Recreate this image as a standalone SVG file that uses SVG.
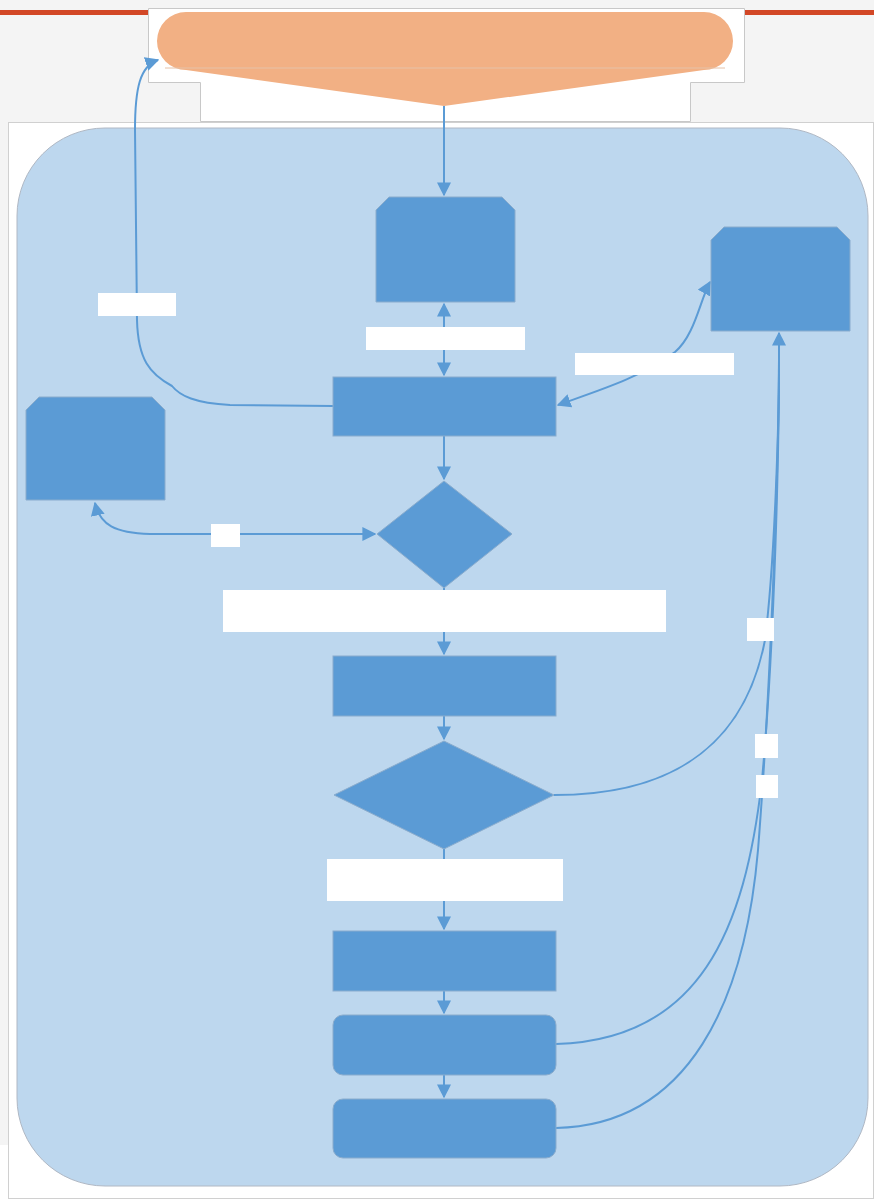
<svg xmlns="http://www.w3.org/2000/svg" width="874" height="1202" viewBox="0 0 874 1202">
<defs>
<style>
.node{fill:#5b9bd5;stroke:#8aaccd;stroke-width:1}
.lbl{fill:#ffffff}
.con{fill:none;stroke:#5b9bd5;stroke-width:2}
</style>
<marker id="arr" viewBox="0 0 10 10" refX="9" refY="5" markerWidth="7" markerHeight="7" orient="auto-start-reverse" markerUnits="strokeWidth">
<path d="M0,0 L10,5 L0,10 Z" fill="#5b9bd5"/>
</marker>
</defs>
<rect x="0" y="0" width="874" height="1145" fill="#f4f4f4"/>
<rect x="0" y="1145" width="874" height="57" fill="#ffffff"/>
<rect x="0" y="10" width="874" height="5" fill="#d24726"/>
<rect x="8.5" y="122.5" width="865" height="1076" fill="#ffffff" stroke="#d0d0d0"/>
<rect id="container" x="17" y="128" width="851" height="1058" rx="88" ry="88" fill="#bdd7ee" stroke="#b0b8c4" stroke-width="1"/>

<g id="header">
<path d="M148.5,8.5 H744.5 V82.5 H690.5 V121.5 H200.5 V82.5 H148.5 Z" fill="#ffffff" stroke="#c8c8c8"/>
<path d="M157,41 A29,29 0 0 1 186,12 H704 A29,29 0 0 1 733,41 A29,29 0 0 1 704,70 L444,106 L186,70 A29,29 0 0 1 157,41 Z" fill="#f2b084"/>
<line x1="165" y1="68" x2="725" y2="68" stroke="#e6c2a8" stroke-width="1"/>
</g>

<g id="connectors">
<path class="con" d="M444,106 V195" marker-end="url(#arr)"/>
<path class="con" d="M444,304 V375" marker-start="url(#arr)" marker-end="url(#arr)"/>
<path class="con" d="M444,436 V479" marker-end="url(#arr)"/>
<path class="con" d="M444,588 V654" marker-end="url(#arr)"/>
<path class="con" d="M444,716 V739" marker-end="url(#arr)"/>
<path class="con" d="M444,849 V929" marker-end="url(#arr)"/>
<path class="con" d="M444,991 V1013" marker-end="url(#arr)"/>
<path class="con" d="M444,1075 V1097" marker-end="url(#arr)"/>
<path class="con" d="M333,406 L230,405 C195,403 180,396 172,386 C150,374 138,360 137,320 L135,130 C135,88 140,66 158,60" marker-end="url(#arr)"/>
<path class="con" d="M95,503 C100,525 115,533 150,534 L375,534" marker-start="url(#arr)" marker-end="url(#arr)"/>
<path class="con" d="M558,405 C600,390 640,378 675,352 C695,335 700,300 710,282" marker-start="url(#arr)" marker-end="url(#arr)"/>
<path class="con" d="M554,795 C640,795 740,770 765,640 C775,560 779,420 779,360"/>
<path class="con" d="M556,1044 C700,1040 745,930 762,780 C775,640 779,440 779,360"/>
<path class="con" d="M556,1128 C690,1125 745,1000 758,850 C770,700 779,460 779,360"/>
<path class="con" d="M779,362 V333" marker-end="url(#arr)"/>
</g>

<g id="node-top"><path class="node" d="M389,197 H502 L515,210 V302 H376 V210 Z"/></g>
<g id="node-right"><path class="node" d="M724,227 H837 L850,240 V331 H711 V240 Z"/></g>
<g id="node-left"><path class="node" d="M39,397 H152 L165,410 V500 H26 V410 Z"/></g>
<g id="node-process1"><rect class="node" x="333" y="377" width="223" height="59"/></g>
<g id="node-decision1"><path class="node" d="M444,481 L512,534 L444,588 L377,534 Z"/></g>
<g id="node-process2"><rect class="node" x="333" y="656" width="223" height="60"/></g>
<g id="node-decision2"><path class="node" d="M444,741 L554,795 L444,849 L334,795 Z"/></g>
<g id="node-process3"><rect class="node" x="333" y="931" width="223" height="60"/></g>
<g id="node-rounded1"><rect class="node" x="333" y="1015" width="223" height="60" rx="10"/></g>
<g id="node-rounded2"><rect class="node" x="333" y="1099" width="223" height="59" rx="10"/></g>

<g id="labels">
<rect class="lbl" x="98" y="293" width="78" height="23"/>
<rect class="lbl" x="366" y="327" width="159" height="23"/>
<rect class="lbl" x="575" y="353" width="159" height="22"/>
<rect class="lbl" x="211" y="524" width="29" height="23"/>
<rect class="lbl" x="223" y="590" width="443" height="42"/>
<rect class="lbl" x="747" y="618" width="27" height="23"/>
<rect class="lbl" x="755" y="734" width="23" height="24"/>
<rect class="lbl" x="756" y="775" width="22" height="23"/>
<rect class="lbl" x="327" y="859" width="236" height="42"/>
</g>
</svg>
